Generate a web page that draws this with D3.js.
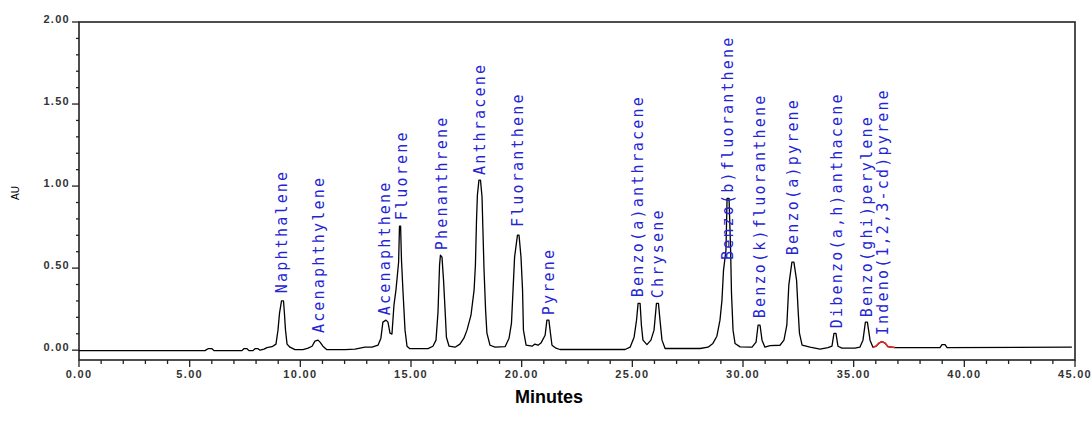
<!DOCTYPE html>
<html lang="en">
<head>
<meta charset="utf-8">
<title>PAH chromatogram</title>
<script src="https://cdn.jsdelivr.net/npm/d3@7"></script>
<style>
  body { margin: 0; background: #fff; }
  .tick-label { font-family: "Liberation Sans", Arial, sans-serif; font-size: 11px; font-weight: bold; fill: #333; letter-spacing: 1.3px; }
  .peak-label { font-family: "DejaVu Sans Mono", monospace; font-size: 15px; fill: #2424d4; letter-spacing: 2.2px; }
</style>
</head>
<body>
<script>
const w = 1092;
const h = 434;
const margin = {top: 22, right: 17, bottom: 74, left: 79};

// chromatogram trace, [minutes, AU]
const trace = [
  [0, -0.003], [5.69, -0.003], [5.83, 0.009], [6.01, 0.009], [6.10, -0.003],
  [7.36, -0.003], [7.45, 0.009], [7.59, 0.009], [7.68, -0.003],
  [7.86, -0.003], [7.95, 0.009], [8.09, 0.009], [8.18, 0.0],
  [8.36, 0.006], [8.49, 0.015], [8.72, 0.021], [8.90, 0.037], [8.99, 0.122],
  [9.06, 0.226], [9.15, 0.300], [9.24, 0.300], [9.28, 0.226], [9.33, 0.122],
  [9.40, 0.037], [9.53, 0.018], [9.76, 0.003], [10.12, 0.003], [10.35, 0.012],
  [10.53, 0.024], [10.66, 0.055], [10.80, 0.061], [10.89, 0.049], [11.02, 0.024],
  [11.20, 0.003], [12.02, 0.003], [12.47, 0.006], [12.92, 0.018], [13.24, 0.018],
  [13.51, 0.030], [13.64, 0.073], [13.73, 0.171], [13.87, 0.183], [13.96, 0.171],
  [14.05, 0.104], [14.14, 0.098], [14.23, 0.274], [14.32, 0.366], [14.44, 0.536],
  [14.48, 0.756], [14.53, 0.756], [14.57, 0.549], [14.64, 0.353], [14.73, 0.122],
  [14.82, 0.024], [14.95, 0.009], [15.77, 0.009], [15.99, 0.024], [16.13, 0.061],
  [16.22, 0.232], [16.29, 0.518], [16.33, 0.579], [16.40, 0.567], [16.47, 0.427],
  [16.54, 0.244], [16.60, 0.079], [16.72, 0.024], [16.99, 0.018], [17.21, 0.037],
  [17.39, 0.073], [17.53, 0.122], [17.71, 0.213], [17.85, 0.366], [17.91, 0.518],
  [17.96, 0.792], [18.00, 0.945], [18.07, 1.036], [18.14, 1.036], [18.21, 0.932],
  [18.25, 0.731], [18.30, 0.488], [18.37, 0.244], [18.43, 0.104], [18.57, 0.030],
  [18.80, 0.018], [19.25, 0.021], [19.43, 0.073], [19.54, 0.165], [19.61, 0.366],
  [19.68, 0.567], [19.81, 0.701], [19.88, 0.701], [19.97, 0.567], [20.04, 0.366],
  [20.08, 0.122], [20.20, 0.030], [20.47, 0.024], [20.60, 0.037], [20.74, 0.030],
  [20.87, 0.043], [21.06, 0.091], [21.14, 0.183], [21.23, 0.183], [21.30, 0.104],
  [21.37, 0.030], [21.55, 0.012], [21.73, 0.004], [24.67, 0.004], [24.90, 0.018],
  [25.08, 0.079], [25.19, 0.183], [25.26, 0.285], [25.35, 0.285], [25.41, 0.152],
  [25.48, 0.061], [25.66, 0.034], [25.84, 0.061], [25.98, 0.122], [26.09, 0.285],
  [26.18, 0.285], [26.25, 0.183], [26.34, 0.061], [26.48, 0.010], [28.06, 0.010],
  [28.42, 0.018], [28.64, 0.041], [28.82, 0.085], [28.96, 0.183], [29.05, 0.305],
  [29.12, 0.488], [29.23, 0.609], [29.28, 0.925], [29.37, 0.925], [29.44, 0.609],
  [29.48, 0.347], [29.55, 0.122], [29.64, 0.041], [29.87, 0.020], [30.41, 0.018],
  [30.59, 0.049], [30.68, 0.152], [30.77, 0.152], [30.86, 0.061], [30.99, 0.018],
  [31.22, 0.027], [31.67, 0.030], [31.85, 0.061], [31.98, 0.152], [32.07, 0.396],
  [32.21, 0.536], [32.30, 0.536], [32.42, 0.427], [32.49, 0.244], [32.55, 0.104],
  [32.67, 0.030], [33.03, 0.018], [33.48, 0.006], [33.84, 0.015], [34.02, 0.024],
  [34.11, 0.102], [34.20, 0.102], [34.29, 0.024], [34.47, 0.012], [35.06, 0.012],
  [35.28, 0.018], [35.42, 0.061], [35.53, 0.171], [35.62, 0.171], [35.74, 0.061],
  [35.87, 0.018], [36.01, 0.024], [36.14, 0.043], [36.28, 0.052], [36.42, 0.043],
  [36.55, 0.021], [36.87, 0.016], [38.90, 0.016], [38.99, 0.034], [39.13, 0.034],
  [39.22, 0.016], [44.86, 0.018]
];

// integrated (red) part of the trace, minutes
const redSpan = [35.87, 36.87];

// peak names, label position (minutes) and where each label starts (AU)
const peakNames = [
  "Naphthalene", "Acenaphthylene", "Acenaphthene", "Fluorene", "Phenanthrene",
  "Anthracene", "Fluoranthene", "Pyrene", "Benzo(a)anthracene", "Chrysene",
  "Benzo(b)fluoranthene", "Benzo(k)fluoranthene", "Benzo(a)pyrene",
  "Dibenzo(a,h)anthacene", "Benzo(ghi)perylene", "Indeno(1,2,3-cd)pyrene"
];
const peakTimes = [9.17, 10.84, 13.83, 14.58, 16.39, 18.12, 19.85, 21.25, 25.26, 26.16,
                   29.32, 30.77, 32.26, 34.24, 35.60, 36.33];
const labelAU = [0.347, 0.104, 0.213, 0.792, 0.609, 1.067, 0.750, 0.213, 0.323, 0.317,
                 0.549, 0.195, 0.579, 0.134, 0.201, 0.091];

const yMajor = [0, 0.5, 1.0, 1.5, 2.0];
const xMajor = [0, 5, 10, 15, 20, 25, 30, 35, 40, 45];

const svg = d3.select("body").append("svg")
  .attr("width", w)
  .attr("height", h);

const xScale = d3.scaleLinear()
  .domain([0, 45])
  .range([margin.left, w - margin.right]);

const yScale = d3.scaleLinear()
  .domain([-0.06, 2.0])
  .range([h - margin.bottom, margin.top]);

// frame
svg.append("rect")
  .attr("x", margin.left)
  .attr("y", margin.top)
  .attr("width", w - margin.right - margin.left)
  .attr("height", h - margin.bottom - margin.top)
  .attr("fill", "none")
  .attr("stroke", "#222")
  .attr("stroke-width", 1.6);

// y axis ticks
const yMinor = d3.range(0, 21).map(i => i / 10);
svg.append("g").selectAll("line")
  .data(yMinor)
  .enter()
  .append("line")
  .attr("x1", d => yMajor.includes(d) ? margin.left - 7 : margin.left - 3)
  .attr("x2", margin.left)
  .attr("y1", d => yScale(d))
  .attr("y2", d => yScale(d))
  .attr("stroke", "#222")
  .attr("stroke-width", 1.3);

svg.append("g").selectAll("text")
  .data(yMajor)
  .enter()
  .append("text")
  .attr("class", "tick-label")
  .attr("x", margin.left - 9)
  .attr("y", d => yScale(d) + 1)
  .attr("text-anchor", "end")
  .text(d => d.toFixed(2));

// x axis ticks
const xMinor = d3.range(0, 46);
svg.append("g").selectAll("line")
  .data(xMinor)
  .enter()
  .append("line")
  .attr("x1", d => xScale(d))
  .attr("x2", d => xScale(d))
  .attr("y1", h - margin.bottom)
  .attr("y2", d => d % 5 === 0 ? h - margin.bottom + 7 : h - margin.bottom + 4)
  .attr("stroke", "#222")
  .attr("stroke-width", 1.3);

svg.append("g").selectAll("text")
  .data(xMajor)
  .enter()
  .append("text")
  .attr("class", "tick-label")
  .attr("x", d => xScale(d))
  .attr("y", h - margin.bottom + 18)
  .attr("text-anchor", "middle")
  .text(d => d.toFixed(2));

// trace
const line = d3.line()
  .x(d => xScale(d[0]))
  .y(d => yScale(d[1]));

svg.append("path")
  .datum(trace)
  .attr("d", line)
  .attr("fill", "none")
  .attr("stroke", "#000")
  .attr("stroke-width", 1.3)
  .attr("stroke-linejoin", "round");

svg.append("path")
  .datum(trace.filter(d => d[0] >= redSpan[0] && d[0] <= redSpan[1]))
  .attr("d", line)
  .attr("fill", "none")
  .attr("stroke", "#e8231f")
  .attr("stroke-width", 1.6);

// peak labels
svg.append("g").selectAll("text")
  .data(peakNames)
  .enter()
  .append("text")
  .attr("class", "peak-label")
  .attr("dominant-baseline", "central")
  .attr("transform", (d, i) => "translate(" + xScale(peakTimes[i]) + "," + yScale(labelAU[i]) + ") rotate(-90)")
  .text(d => d);

// axis titles
svg.append("text")
  .attr("transform", "translate(15," + 193 + ") rotate(-90)")
  .attr("text-anchor", "middle")
  .attr("dominant-baseline", "central")
  .style("font-family", "Liberation Sans, Arial, sans-serif")
  .style("font-size", "10px")
  .text("AU");

svg.append("text")
  .attr("x", 549)
  .attr("y", 403)
  .attr("text-anchor", "middle")
  .style("font-family", "Liberation Sans, Arial, sans-serif")
  .style("font-size", "18px")
  .style("font-weight", "bold")
  .text("Minutes");
</script>
</body>
</html>
